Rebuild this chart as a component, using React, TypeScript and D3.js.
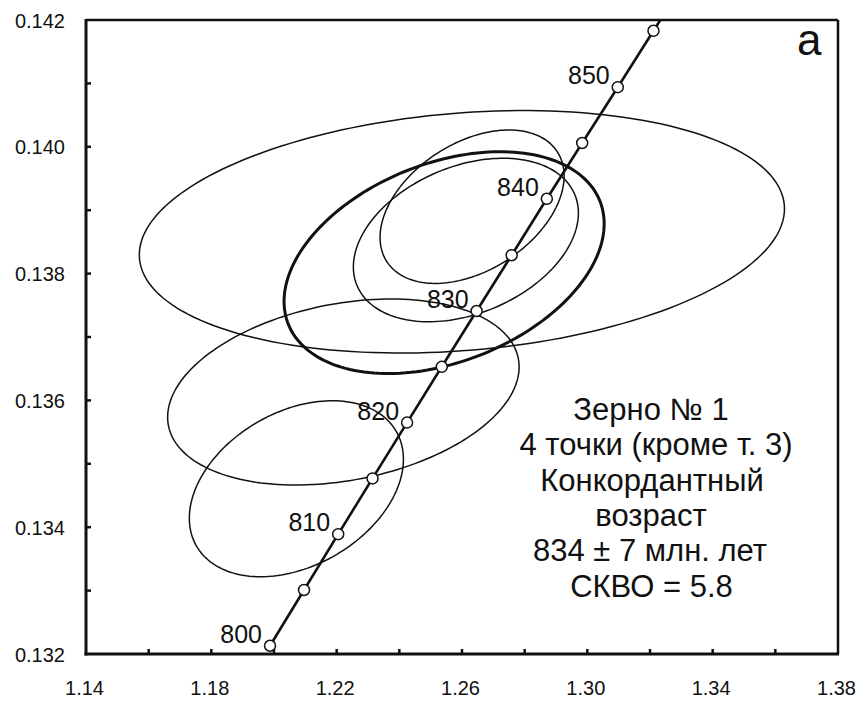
import React from 'react';
import * as d3 from 'd3';

// ---- Data ----
const xDomain = [1.14, 1.38];
const yDomain = [0.132, 0.142];
const xTickValues = [1.16, 1.18, 1.2, 1.22, 1.24, 1.26, 1.28, 1.3, 1.32, 1.34, 1.36];
const xTickLabels = ['1.14', '1.18', '1.22', '1.26', '1.30', '1.34', '1.38'];
const yTickValues = [0.133, 0.134, 0.135, 0.136, 0.137, 0.138, 0.139, 0.14, 0.141];
const yTickLabels = ['0.132', '0.134', '0.136', '0.138', '0.140', '0.142'];

// Concordia points (Ma)
const concordiaAges = [800, 805, 810, 815, 820, 825, 830, 835, 840, 845, 850, 855, 860];
const concordiaX = [1.19873, 1.20958, 1.22049, 1.23145, 1.24247, 1.25354, 1.26466, 1.27584, 1.28707, 1.29836, 1.30971, 1.32111, 1.33257];
const concordiaY = [0.13213, 0.13301, 0.13389, 0.13477, 0.13565, 0.13653, 0.13741, 0.13829, 0.13918, 0.14006, 0.14094, 0.14183, 0.14272];
const labeledAges = [800, 810, 820, 830, 840, 850];

// Error ellipses: centre, half-extent in x and y, correlation
const ellipseCX = [1.25997, 1.25429, 1.26322, 1.26124, 1.22214, 1.20714];
const ellipseCY = [0.138659, 0.138173, 0.139055, 0.13853, 0.136132, 0.134607];
const ellipseEX = [0.10295, 0.05108, 0.02937, 0.03591, 0.05609, 0.03416];
const ellipseEY = [0.001912, 0.001749, 0.00121, 0.001289, 0.001467, 0.001388];
const ellipseRho = [0.19, 0.35, 0.4, 0.33, 0.27, 0.335];
const concordantEllipse = 1;

const panelLetter = 'а';
const noteLines = [
  'Зерно № 1',
  '4 точки (кроме т. 3)',
  'Конкордантный',
  'возраст',
  '834 ± 7 млн. лет',
  'СКВО = 5.8',
];
const noteCenters = [651, 656, 652, 651, 650, 651.5];

// ---- Layout ----
const W = 862;
const H = 702;
const left = 86;
const right = 838;
const top = 20;
const bottom = 654;
const FONT = '"Liberation Sans", Arial, Helvetica, sans-serif';

export default function App() {
  const x = d3.scaleLinear().domain(xDomain).range([left, right]);
  const y = d3.scaleLinear().domain(yDomain).range([bottom, top]);

  const ellipsePath = (i: number) => {
    const ts = d3.range(0, 361, 2).map((d) => (d * Math.PI) / 180);
    const r = ellipseRho[i];
    const s = Math.sqrt(1 - r * r);
    const pts: [number, number][] = ts.map((t) => [
      x(ellipseCX[i] + ellipseEX[i] * Math.cos(t)),
      y(ellipseCY[i] + ellipseEY[i] * (r * Math.cos(t) + s * Math.sin(t))),
    ]);
    return d3.line().curve(d3.curveLinearClosed)(pts) || '';
  };

  const concPts: [number, number][] = concordiaAges.map((_, i) => [x(concordiaX[i]), y(concordiaY[i])]);
  const concPath = d3.line()(concPts) || '';

  return (
    <svg
      width={W}
      height={H}
      style={{ position: 'absolute', left: 0, top: 0, background: '#fff' }}
      fontFamily={FONT}
    >
      <defs>
        <clipPath id="plot">
          <rect x={left} y={top} width={right - left} height={bottom - top} />
        </clipPath>
      </defs>
      <rect x={0} y={0} width={W} height={H} fill="#fff" />

      <g clipPath="url(#plot)">
        {ellipseCX.map((_, i) => (
          <path
            key={i}
            d={ellipsePath(i)}
            fill="none"
            stroke="#111"
            strokeWidth={i === concordantEllipse ? 3 : 1.5}
          />
        ))}
        <path d={concPath} fill="none" stroke="#111" strokeWidth={2.6} />
        {concPts.map((p, i) => (
          <circle key={i} cx={p[0]} cy={p[1]} r={5.5} fill="#fff" stroke="#111" strokeWidth={1.5} />
        ))}
      </g>

      {labeledAges.map((a) => {
        const i = concordiaAges.indexOf(a);
        return (
          <text
            key={a}
            x={concPts[i][0] - 8}
            y={concPts[i][1] - 3}
            textAnchor="end"
            fontSize={25}
            fill="#111"
          >
            {a}
          </text>
        );
      })}

      {/* frame */}
      <line x1={left} y1={top} x2={right} y2={top} stroke="#111" strokeWidth={2.5} />
      <line x1={right} y1={top} x2={right} y2={bottom} stroke="#111" strokeWidth={2.5} />
      <line x1={left} y1={top - 1} x2={left} y2={bottom + 1.5} stroke="#111" strokeWidth={3} />
      <line x1={left - 1.5} y1={bottom} x2={right + 1} y2={bottom} stroke="#111" strokeWidth={3} />

      {/* ticks */}
      {yTickValues.map((v) => (
        <line key={v} x1={left} y1={y(v)} x2={left + 5} y2={y(v)} stroke="#111" strokeWidth={2.5} />
      ))}
      {xTickValues.map((v) => (
        <line key={v} x1={x(v)} y1={bottom} x2={x(v)} y2={bottom - 5} stroke="#111" strokeWidth={2.5} />
      ))}

      {/* tick labels */}
      {yTickLabels.map((l) => (
        <text key={l} x={65} y={y(+l) + 7.5} textAnchor="end" fontSize={20} fill="#111">
          {l}
        </text>
      ))}
      {xTickLabels.map((l) => (
        <text key={l} x={x(+l) - 1.5} y={695} textAnchor="middle" fontSize={20} fill="#111">
          {l}
        </text>
      ))}

      <text x={797} y={55} fontSize={44} fill="#111">
        {panelLetter}
      </text>

      {noteLines.map((l, i) => (
        <text key={i} x={noteCenters[i]} y={420 + i * 35.3} textAnchor="middle" fontSize={31} fill="#111">
          {l}
        </text>
      ))}
    </svg>
  );
}
